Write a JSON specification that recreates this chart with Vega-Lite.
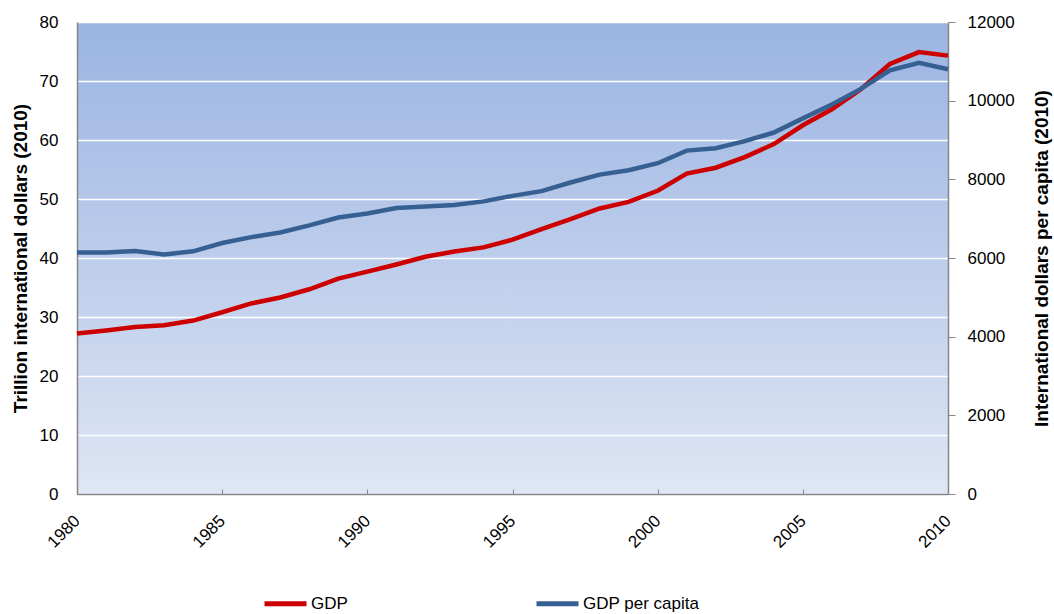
{
  "$schema": "https://vega.github.io/schema/vega-lite/v6.json",
  "width": 871,
  "height": 472,
  "autosize": "none",
  "padding": {"left": 77, "top": 22, "right": 106, "bottom": 120},
  "background": "white",
  "config": {
    "font": "Liberation Sans, sans-serif",
    "view": {
      "stroke": null,
      "fill": {"gradient": "linear", "x1": 0, "y1": 0, "x2": 0, "y2": 1,
        "stops": [{"offset": 0, "color": "#9ab4e2"}, {"offset": 1, "color": "#dfe6f4"}]}
    },
    "axis": {
      "labelFontSize": 17, "labelColor": "#000000", "titleFontSize": 19, "titleColor": "#000000",
      "titleFontWeight": "bold", "domainColor": "#868686", "tickColor": "#868686", "domainWidth": 1.5,
      "labelOverlap": false
    }
  },
  "data": {"values": [
    {"year": 1980, "series": "GDP", "value": 27.2},
    {"year": 1981, "series": "GDP", "value": 27.7},
    {"year": 1982, "series": "GDP", "value": 28.3},
    {"year": 1983, "series": "GDP", "value": 28.6},
    {"year": 1984, "series": "GDP", "value": 29.4},
    {"year": 1985, "series": "GDP", "value": 30.8},
    {"year": 1986, "series": "GDP", "value": 32.3},
    {"year": 1987, "series": "GDP", "value": 33.3},
    {"year": 1988, "series": "GDP", "value": 34.7},
    {"year": 1989, "series": "GDP", "value": 36.5},
    {"year": 1990, "series": "GDP", "value": 37.7},
    {"year": 1991, "series": "GDP", "value": 38.9},
    {"year": 1992, "series": "GDP", "value": 40.2},
    {"year": 1993, "series": "GDP", "value": 41.1},
    {"year": 1994, "series": "GDP", "value": 41.8},
    {"year": 1995, "series": "GDP", "value": 43.1},
    {"year": 1996, "series": "GDP", "value": 44.9},
    {"year": 1997, "series": "GDP", "value": 46.6},
    {"year": 1998, "series": "GDP", "value": 48.4},
    {"year": 1999, "series": "GDP", "value": 49.5},
    {"year": 2000, "series": "GDP", "value": 51.4},
    {"year": 2001, "series": "GDP", "value": 54.3},
    {"year": 2002, "series": "GDP", "value": 55.3},
    {"year": 2003, "series": "GDP", "value": 57.1},
    {"year": 2004, "series": "GDP", "value": 59.3},
    {"year": 2005, "series": "GDP", "value": 62.5},
    {"year": 2006, "series": "GDP", "value": 65.2},
    {"year": 2007, "series": "GDP", "value": 68.6},
    {"year": 2008, "series": "GDP", "value": 72.9},
    {"year": 2009, "series": "GDP", "value": 74.9},
    {"year": 2010, "series": "GDP", "value": 74.3},
    {"year": 1980, "series": "GDP per capita", "value": 6140},
    {"year": 1981, "series": "GDP per capita", "value": 6140},
    {"year": 1982, "series": "GDP per capita", "value": 6180},
    {"year": 1983, "series": "GDP per capita", "value": 6090},
    {"year": 1984, "series": "GDP per capita", "value": 6170},
    {"year": 1985, "series": "GDP per capita", "value": 6380},
    {"year": 1986, "series": "GDP per capita", "value": 6530},
    {"year": 1987, "series": "GDP per capita", "value": 6650},
    {"year": 1988, "series": "GDP per capita", "value": 6830},
    {"year": 1989, "series": "GDP per capita", "value": 7030},
    {"year": 1990, "series": "GDP per capita", "value": 7130},
    {"year": 1991, "series": "GDP per capita", "value": 7270},
    {"year": 1992, "series": "GDP per capita", "value": 7310},
    {"year": 1993, "series": "GDP per capita", "value": 7350},
    {"year": 1994, "series": "GDP per capita", "value": 7440},
    {"year": 1995, "series": "GDP per capita", "value": 7580},
    {"year": 1996, "series": "GDP per capita", "value": 7700},
    {"year": 1997, "series": "GDP per capita", "value": 7920},
    {"year": 1998, "series": "GDP per capita", "value": 8120},
    {"year": 1999, "series": "GDP per capita", "value": 8230},
    {"year": 2000, "series": "GDP per capita", "value": 8410},
    {"year": 2001, "series": "GDP per capita", "value": 8730},
    {"year": 2002, "series": "GDP per capita", "value": 8790},
    {"year": 2003, "series": "GDP per capita", "value": 8970},
    {"year": 2004, "series": "GDP per capita", "value": 9190},
    {"year": 2005, "series": "GDP per capita", "value": 9550},
    {"year": 2006, "series": "GDP per capita", "value": 9900},
    {"year": 2007, "series": "GDP per capita", "value": 10300},
    {"year": 2008, "series": "GDP per capita", "value": 10770},
    {"year": 2009, "series": "GDP per capita", "value": 10960},
    {"year": 2010, "series": "GDP per capita", "value": 10800}
  ]},
  "encoding": {
    "x": {
      "field": "year", "type": "quantitative",
      "scale": {"domain": [1980, 2010], "nice": false, "zero": false},
      "axis": {"title": null, "values": [1980, 1985, 1990, 1995, 2000, 2005, 2010], "format": "d",
        "labelAngle": -45, "labelAlign": "right", "labelBaseline": "middle", "labelPadding": 29,
        "tickSize": -5, "grid": false, "labelFlush": false, "labelFontSize": 17}
    },
    "color": {
      "field": "series", "type": "nominal",
      "scale": {"domain": ["GDP", "GDP per capita"], "range": ["#cc0000", "#376092"]},
      "legend": {
        "title": null, "orient": "none", "direction": "horizontal", "legendX": 185, "legendY": 558,
        "symbolType": "stroke", "symbolSize": 1764, "symbolStrokeWidth": 5, "labelFontSize": 17,
        "labelColor": "#000000", "labelOffset": 2, "columnPadding": 178
      }
    }
  },
  "layer": [
    {
      "transform": [{"filter": "datum.series === 'GDP'"}],
      "mark": {"type": "line", "strokeWidth": 4.5},
      "encoding": {
        "y": {"field": "value", "type": "quantitative", "scale": {"domain": [0, 80], "nice": false},
          "axis": {"title": "Trillion international dollars (2010)", "orient": "left",
            "values": [0, 10, 20, 30, 40, 50, 60, 70, 80],
            "grid": true, "gridColor": "#ffffff", "gridWidth": 1.5, "gridOpacity": 1,
            "ticks": false, "labelPadding": 19, "titlePadding": 9}}
      }
    },
    {
      "transform": [{"filter": "datum.series === 'GDP per capita'"}],
      "mark": {"type": "line", "strokeWidth": 4.5},
      "encoding": {
        "y": {"field": "value", "type": "quantitative", "scale": {"domain": [0, 12000], "nice": false},
          "axis": {"title": "International dollars per capita (2010)", "orient": "right",
            "values": [0, 2000, 4000, 6000, 8000, 10000, 12000], "format": "d",
            "grid": false, "tickSize": 7, "labelPadding": 12, "titleAngle": 270, "titlePadding": 37}}
      }
    }
  ],
  "resolve": {"scale": {"y": "independent"}}
}
